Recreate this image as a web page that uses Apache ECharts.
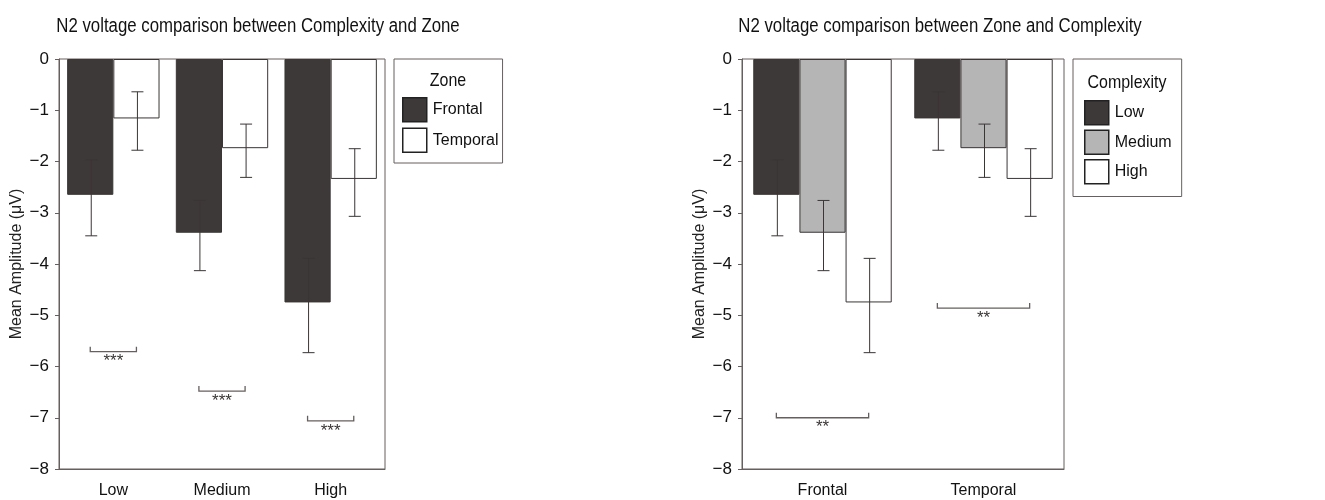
<!DOCTYPE html>
<html>
<head>
<meta charset="utf-8">
<title>N2 voltage comparison</title>
<script src="https://cdn.jsdelivr.net/npm/echarts@6/dist/echarts.min.js"></script>
<style>
  html, body { margin: 0; padding: 0; background: #fff; }
  #chart { width: 1325px; height: 500px; }
</style>
</head>
<body>
<div id="chart"></div>
<script>
  // categories
  const complexityLevels = ['Low', 'Medium', 'High'];
  const zones = ['Frontal', 'Temporal'];

  // mean amplitude (uV) per complexity level, by zone
  const frontalMean = [-2.65, -3.39, -4.75];
  const temporalMean = [-1.16, -1.74, -2.34];
  // error bar ends (upper, lower)
  const frontalErrUpper = [-1.97, -2.76, -3.89];
  const frontalErrLower = [-3.45, -4.13, -5.73];
  const temporalErrUpper = [-0.64, -1.27, -1.75];
  const temporalErrLower = [-1.78, -2.31, -3.07];

  // significance brackets
  const zoneSigLevel = [-5.71, -6.48, -7.06];
  const zoneSigMark = ['***', '***', '***'];
  const complexitySigLevel = [-7.0, -4.86];
  const complexitySigMark = ['**', '**'];

  // y axis ticks
  const yMin = -8;
  const yMax = 0;
  const yStep = 1;

  const FONT = '"Liberation Sans", Arial, sans-serif';
  const LINE = '#675f5f';
  const INK = '#3b3535';
  const DARK = '#3d3938';
  const GREY = '#b5b5b5';
  const LEFT_GAP = 0.15;
  const RIGHT_GAP = 0.14;
  const SQUEEZE = 0.84; // the source figure's text is horizontally narrow

  const chart = echarts.init(document.getElementById('chart'), null, { renderer: 'canvas' });

  function barCenter(params, api, barIndex, barCount, gapRatio) {
    const band = api.size([1, 0])[0];
    const groupW = band * (1 - gapRatio);
    const barW = groupW / barCount;
    const c = api.coord([api.value(0), 0])[0];
    return c - groupW / 2 + (barIndex + 0.5) * barW;
  }

  // error bars drawn through the axis scales
  function errorBars(barIndex, barCount, gapRatio) {
    return function (params, api) {
      const x = barCenter(params, api, barIndex, barCount, gapRatio) + 1;
      const yTop = api.coord([api.value(0), api.value(1)])[1];
      const yBot = api.coord([api.value(0), api.value(2)])[1];
      const cap = 6;
      const style = { stroke: INK, lineWidth: 1 };
      return {
        type: 'group',
        children: [
          { type: 'line', shape: { x1: x, y1: yTop, x2: x, y2: yBot }, style: style },
          { type: 'line', shape: { x1: x - cap, y1: yTop, x2: x + cap, y2: yTop }, style: style },
          { type: 'line', shape: { x1: x - cap, y1: yBot, x2: x + cap, y2: yBot }, style: style }
        ]
      };
    };
  }

  // significance bracket from first bar centre to last bar centre
  function brackets(barCount, gapRatio) {
    return function (params, api) {
      const x0 = barCenter(params, api, 0, barCount, gapRatio);
      const x1 = barCenter(params, api, barCount - 1, barCount, gapRatio);
      const y = api.coord([api.value(0), api.value(1)])[1];
      const style = { stroke: LINE, lineWidth: 1.3 };
      return {
        type: 'group',
        children: [
          { type: 'polyline', shape: { points: [[x0, y - 5], [x0, y], [x1, y], [x1, y - 5]] }, style: Object.assign({ fill: null }, style) },
          { type: 'text', x: (x0 + x1) / 2, y: y + 10, style: { text: api.value(2), fill: INK, font: '17px ' + FONT, align: 'center', verticalAlign: 'middle' } }
        ]
      };
    };
  }

  function errData(upper, lower) {
    return upper.map(function (u, i) { return [i, u, lower[i]]; });
  }

  const grids = [
    { left: 59, top: 59, width: 326, height: 410 },
    { left: 742, top: 59, width: 322, height: 410 }
  ];

  function yAxis(gi) {
    return {
      type: 'value', gridIndex: gi, min: yMin, max: yMax, interval: yStep,
      name: 'Mean Amplitude (\u03bcV)', nameLocation: 'middle', nameGap: 34, nameRotate: 90,
      nameTextStyle: { fontFamily: FONT, fontSize: 16, color: '#222' },
      axisLine: { show: true, lineStyle: { color: LINE, width: 1 } },
      axisTick: { show: true, length: 4, lineStyle: { color: LINE } },
      splitLine: { show: false },
      axisLabel: {
        fontFamily: FONT, fontSize: 17, color: '#111', margin: 10,
        formatter: function (v) { return String(v).replace('-', '\u2212'); }
      }
    };
  }

  function xAxis(gi, cats) {
    return {
      type: 'category', gridIndex: gi, data: cats,
      axisLine: { onZero: false, lineStyle: { color: LINE, width: 1 } },
      axisTick: { alignWithLabel: true, length: 5, lineStyle: { color: LINE } },
      axisLabel: { fontFamily: FONT, fontSize: 16, color: '#111', margin: 14 }
    };
  }

  const barBorder = { borderColor: INK, borderWidth: 1 };

  function legend(names, left, padding, gap) {
    return {
      data: names, orient: 'vertical', left: left, top: 59,
      icon: 'rect', padding: padding, itemWidth: 24, itemHeight: 24, itemGap: gap,
      borderColor: LINE, borderWidth: 1, backgroundColor: '#fff',
      itemStyle: { borderColor: '#222', borderWidth: 1.5 },
      textStyle: { fontFamily: FONT, fontSize: 16, color: '#111', padding: [0, 0, 0, 1] }
    };
  }

  function label(text, x, y, size) {
    return {
      type: 'text', x: x, y: y, z: 100, scaleX: SQUEEZE,
      style: { text: text, font: size + 'px ' + FONT, fill: '#111', align: 'center', verticalAlign: 'middle' }
    };
  }

  const option = {
    animation: false,
    backgroundColor: '#fff',
    grid: grids.map(function (g) {
      return Object.assign({ show: true, borderColor: LINE, borderWidth: 1, backgroundColor: 'transparent' }, g);
    }),
    xAxis: [xAxis(0, complexityLevels), xAxis(1, zones)],
    yAxis: [yAxis(0), yAxis(1)],
    legend: [
      legend(zones, 394, [38, 4, 10, 8], 5),
      legend(complexityLevels, 1073, [41, 10, 12, 11], 4)
    ],
    graphic: [
      label('N2 voltage comparison between Complexity and Zone', 258, 26, 20),
      label('N2 voltage comparison between Zone and Complexity', 940, 26, 20),
      label('Zone', 448, 81, 19),
      label('Complexity', 1127, 83, 19)
    ],
    series: [
      // left chart: complexity on x, zone as series
      { name: 'Frontal', type: 'bar', xAxisIndex: 0, yAxisIndex: 0, data: frontalMean, barGap: '0%', barCategoryGap: (LEFT_GAP * 100) + '%', itemStyle: Object.assign({ color: DARK }, barBorder) },
      { name: 'Temporal', type: 'bar', xAxisIndex: 0, yAxisIndex: 0, data: temporalMean, barGap: '0%', barCategoryGap: (LEFT_GAP * 100) + '%', itemStyle: Object.assign({ color: '#fff' }, barBorder) },
      { type: 'custom', xAxisIndex: 0, yAxisIndex: 0, renderItem: errorBars(0, 2, LEFT_GAP), data: errData(frontalErrUpper, frontalErrLower), z: 5 },
      { type: 'custom', xAxisIndex: 0, yAxisIndex: 0, renderItem: errorBars(1, 2, LEFT_GAP), data: errData(temporalErrUpper, temporalErrLower), z: 5 },
      { type: 'custom', xAxisIndex: 0, yAxisIndex: 0, renderItem: brackets(2, LEFT_GAP), data: zoneSigLevel.map(function (v, i) { return [i, v, zoneSigMark[i]]; }), z: 5 },

      // right chart: zone on x, complexity as series
      { name: 'Low', type: 'bar', xAxisIndex: 1, yAxisIndex: 1, data: [frontalMean[0], temporalMean[0]], barGap: '0%', barCategoryGap: (RIGHT_GAP * 100) + '%', itemStyle: Object.assign({ color: DARK }, barBorder) },
      { name: 'Medium', type: 'bar', xAxisIndex: 1, yAxisIndex: 1, data: [frontalMean[1], temporalMean[1]], barGap: '0%', barCategoryGap: (RIGHT_GAP * 100) + '%', itemStyle: Object.assign({ color: GREY }, barBorder) },
      { name: 'High', type: 'bar', xAxisIndex: 1, yAxisIndex: 1, data: [frontalMean[2], temporalMean[2]], barGap: '0%', barCategoryGap: (RIGHT_GAP * 100) + '%', itemStyle: Object.assign({ color: '#fff' }, barBorder) },
      { type: 'custom', xAxisIndex: 1, yAxisIndex: 1, renderItem: errorBars(0, 3, RIGHT_GAP), data: errData([frontalErrUpper[0], temporalErrUpper[0]], [frontalErrLower[0], temporalErrLower[0]]), z: 5 },
      { type: 'custom', xAxisIndex: 1, yAxisIndex: 1, renderItem: errorBars(1, 3, RIGHT_GAP), data: errData([frontalErrUpper[1], temporalErrUpper[1]], [frontalErrLower[1], temporalErrLower[1]]), z: 5 },
      { type: 'custom', xAxisIndex: 1, yAxisIndex: 1, renderItem: errorBars(2, 3, RIGHT_GAP), data: errData([frontalErrUpper[2], temporalErrUpper[2]], [frontalErrLower[2], temporalErrLower[2]]), z: 5 },
      { type: 'custom', xAxisIndex: 1, yAxisIndex: 1, renderItem: brackets(3, RIGHT_GAP), data: complexitySigLevel.map(function (v, i) { return [i, v, complexitySigMark[i]]; }), z: 5 }
    ]
  };

  chart.setOption(option);
</script>
</body>
</html>
